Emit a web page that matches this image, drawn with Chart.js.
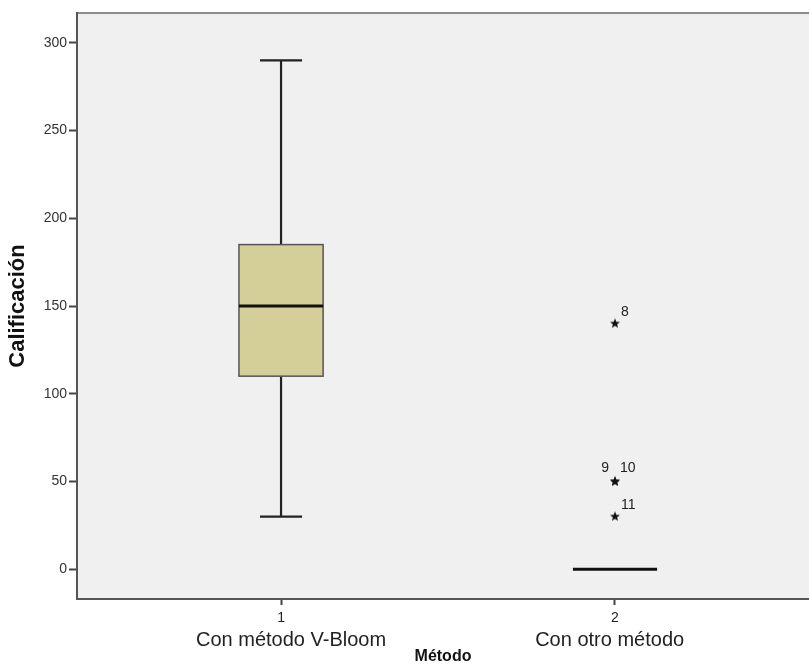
<!DOCTYPE html>
<html>
<head>
<meta charset="utf-8">
<script src="https://cdn.jsdelivr.net/npm/chart.js@4.4.1/dist/chart.umd.min.js"></script>
<style>
  html, body { margin: 0; padding: 0; background: #ffffff; overflow: hidden; }
  canvas { display: block; }
</style>
</head>
<body>
<canvas id="chart" width="809" height="666"></canvas>
<script>
// Groups and their box-plot summaries (Calificación by Método)
const categories = ['Con método V-Bloom', 'Con otro método'];
const categoryCodes = ['1', '2'];
const lowerWhisker = [30, 0];
const firstQuartile = [110, 0];
const medians = [150, 0];
const thirdQuartile = [185, 0];
const upperWhisker = [290, 0];

// Extreme cases: group index (1-based), value and case number
const outlierGroup = [2, 2, 2, 2];
const outlierValues = [140, 50, 50, 30];
const outlierCases = ['8', '9', '10', '11'];

const yTickValues = [0, 50, 100, 150, 200, 250, 300];

const FONT = '"Liberation Sans", Arial, Helvetica, sans-serif';

// Small filled star used as the marker for extreme cases
function makeStar(size, outer, inner) {
  const c = document.createElement('canvas');
  c.width = size; c.height = size;
  const g = c.getContext('2d');
  const cx = size / 2, cy = size / 2;
  g.beginPath();
  for (let k = 0; k < 10; k++) {
    const r = k % 2 === 0 ? outer : inner;
    const a = -Math.PI / 2 + k * Math.PI / 5;
    const px = cx + r * Math.cos(a), py = cy + r * Math.sin(a);
    if (k === 0) g.moveTo(px, py); else g.lineTo(px, py);
  }
  g.closePath();
  g.fillStyle = '#111111';
  g.fill();
  return c;
}
const starMarker = makeStar(12, 5.2, 2.2);

// Plot background, top frame line, and the boxes with whiskers
const boxPlotPlugin = {
  id: 'boxPlot',
  beforeDraw(chart) {
    const { ctx, chartArea: a } = chart;
    ctx.save();
    ctx.fillStyle = '#f0f0f0';
    ctx.fillRect(a.left, a.top, a.right - a.left, a.bottom - a.top);
    ctx.strokeStyle = '#8c8c8c';
    ctx.lineWidth = 2;
    ctx.beginPath();
    ctx.moveTo(a.left, a.top);
    ctx.lineTo(a.right, a.top);
    ctx.stroke();
    ctx.restore();
  },
  beforeDatasetsDraw(chart) {
    const { ctx } = chart;
    const xs = chart.scales.x, ys = chart.scales.y;
    const unit = xs.getPixelForValue(2) - xs.getPixelForValue(1);
    const boxHalf = unit * 0.126;
    const capHalf = unit * 0.063;
    ctx.save();
    ctx.lineCap = 'butt';
    categories.forEach((name, i) => {
      const cx = xs.getPixelForValue(i + 1);
      const yLo = ys.getPixelForValue(lowerWhisker[i]);
      const yQ1 = ys.getPixelForValue(firstQuartile[i]);
      const yMed = ys.getPixelForValue(medians[i]);
      const yQ3 = ys.getPixelForValue(thirdQuartile[i]);
      const yHi = ys.getPixelForValue(upperWhisker[i]);

      ctx.strokeStyle = '#222222';
      ctx.lineWidth = 2.2;
      if (upperWhisker[i] > thirdQuartile[i]) {
        ctx.beginPath();
        ctx.moveTo(cx, yQ3); ctx.lineTo(cx, yHi);
        ctx.moveTo(cx - capHalf, yHi); ctx.lineTo(cx + capHalf, yHi);
        ctx.stroke();
      }
      if (lowerWhisker[i] < firstQuartile[i]) {
        ctx.beginPath();
        ctx.moveTo(cx, yQ1); ctx.lineTo(cx, yLo);
        ctx.moveTo(cx - capHalf, yLo); ctx.lineTo(cx + capHalf, yLo);
        ctx.stroke();
      }
      if (thirdQuartile[i] > firstQuartile[i]) {
        ctx.fillStyle = '#d4cf98';
        ctx.fillRect(cx - boxHalf, yQ3, boxHalf * 2, yQ1 - yQ3);
        ctx.strokeStyle = '#555555';
        ctx.lineWidth = 1.5;
        ctx.strokeRect(cx - boxHalf, yQ3, boxHalf * 2, yQ1 - yQ3);
      }
      ctx.strokeStyle = '#111111';
      ctx.lineWidth = 3;
      ctx.beginPath();
      ctx.moveTo(cx - boxHalf, yMed); ctx.lineTo(cx + boxHalf, yMed);
      ctx.stroke();
    });
    ctx.restore();
  },
  afterDatasetsDraw(chart) {
    // Case numbers beside the extreme-value markers
    const { ctx } = chart;
    const meta = chart.getDatasetMeta(0);
    ctx.save();
    ctx.font = '14px ' + FONT;
    ctx.fillStyle = '#222222';
    ctx.textBaseline = 'middle';
    meta.data.forEach((pt, k) => {
      const same = (j) => outlierValues[j] === outlierValues[k] && outlierGroup[j] === outlierGroup[k];
      const shared = outlierValues.filter((v, j) => same(j)).length;
      const before = outlierValues.filter((v, j) => j < k && same(j)).length;
      if (shared > 1 && before === 0) {
        ctx.textAlign = 'right';
        ctx.fillText(outlierCases[k], pt.x - 6, pt.y - 13);
      } else {
        ctx.textAlign = 'left';
        ctx.fillText(outlierCases[k], pt.x + (shared > 1 ? 5 : 6), pt.y - (shared > 1 ? 13 : 11));
      }
    });
    ctx.restore();
  }
};

const categoryTicks = (scale) => { scale.ticks = categoryCodes.map((c, i) => ({ value: i + 1 })); };
// Category names sit slightly off their tick, as in the SPSS layout
const nameAnchors = [1.03, 1.984];

new Chart(document.getElementById('chart'), {
  type: 'scatter',
  data: {
    datasets: [{
      data: outlierValues.map((v, k) => ({ x: outlierGroup[k], y: v })),
      pointStyle: starMarker,
      pointRadius: 5,
      pointHoverRadius: 5
    }]
  },
  options: {
    responsive: false,
    animation: false,
    devicePixelRatio: 1,
    events: [],
    layout: { autoPadding: false, padding: { top: 13, left: 0, right: 0, bottom: 0 } },
    plugins: { legend: { display: false }, tooltip: { enabled: false } },
    scales: {
      x: {
        type: 'linear', position: 'bottom', min: 0.389, max: 2.581,
        afterBuildTicks: categoryTicks,
        afterFit: (s) => { s.height = 29; },
        ticks: {
          callback: (v) => categoryCodes[v - 1] ?? '',
          font: { family: FONT, size: 14 }, color: '#222222',
          padding: 5, maxRotation: 0, autoSkip: false
        },
        grid: { drawOnChartArea: false, tickLength: 6, tickColor: '#444444', tickWidth: 2 },
        border: { color: '#555555', width: 2 }
      },
      x2: {
        type: 'linear', position: 'bottom', min: 0.389, max: 2.581,
        afterBuildTicks: (s) => { s.ticks = nameAnchors.map((v) => ({ value: v })); },
        afterFit: (s) => { s.height = 38; },
        ticks: {
          callback: (v, idx) => categories[idx] ?? '',
          font: { family: FONT, size: 20 }, color: '#222222',
          padding: 0, maxRotation: 0, autoSkip: false
        },
        grid: { display: false, drawTicks: false },
        border: { display: false },
        title: {
          display: true, text: 'Método', color: '#111111',
          font: { family: FONT, size: 16, weight: 'bold' }, padding: 0
        }
      },
      y: {
        type: 'linear', min: -17, max: 317,
        afterBuildTicks: (s) => { s.ticks = yTickValues.map((v) => ({ value: v })); },
        afterFit: (s) => { s.width = 77; },
        ticks: { font: { family: FONT, size: 14 }, color: '#333333', padding: 2 },
        grid: { drawOnChartArea: false, tickLength: 8, tickColor: '#444444', tickWidth: 2 },
        border: { color: '#555555', width: 2 },
        title: {
          display: true, text: 'Calificación', color: '#111111',
          font: { family: FONT, size: 22, weight: 'bold' }, padding: { top: 5, bottom: 0 }
        }
      }
    }
  },
  plugins: [boxPlotPlugin]
});
</script>
</body>
</html>
